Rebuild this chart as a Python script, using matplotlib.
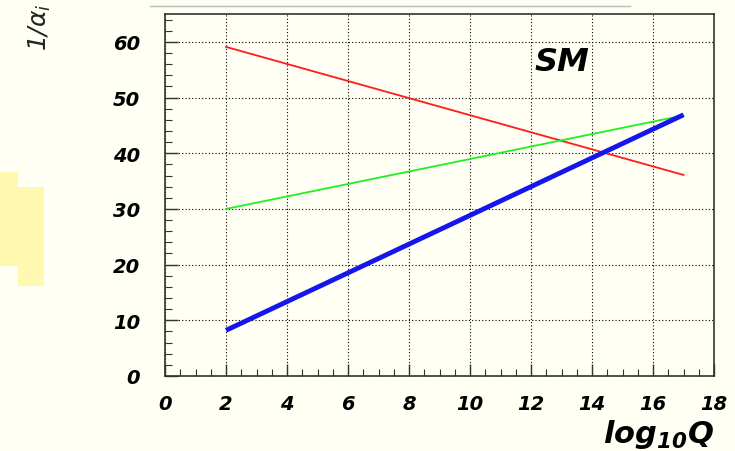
import numpy as np
from matplotlib import pyplot as plt
from matplotlib.patches import Rectangle
from matplotlib.lines import Line2D

# running inverse couplings
log_q = [2, 17]
inv_alpha_red = [59.1, 36.1]
inv_alpha_green = [30.0, 46.8]
inv_alpha_blue = [8.2, 46.9]
x_ticks = [0, 2, 4, 6, 8, 10, 12, 14, 16, 18]
y_ticks = [0, 10, 20, 30, 40, 50, 60]

bg = "#fffff3"
plt.rcParams['font.family'] = ['DejaVu Sans']
plt.rcParams['mathtext.fontset'] = 'custom'
plt.rcParams['mathtext.rm'] = 'DejaVu Sans:italic:bold'
plt.rcParams['mathtext.it'] = 'DejaVu Sans:italic'

fig = plt.figure(figsize=(7.35, 4.52), dpi=100, facecolor=bg)
ax = fig.add_axes([165 / 735, 1 - 377 / 452, 549 / 735, 362 / 452])
ax.set_facecolor(bg)

ax.plot(log_q, inv_alpha_red, color="#ff1a1a", lw=1.3)
ax.plot(log_q, inv_alpha_green, color="#22ee22", lw=1.3)
ax.plot(log_q, inv_alpha_blue, color="#1515ee", lw=3.5, solid_capstyle="butt")

ax.set_xlim(0, 18)
ax.set_ylim(0, 65)
ax.set_xticks(x_ticks)
ax.set_yticks(y_ticks)
ax.set_xticks(np.arange(0, 18.01, 0.5), minor=True)
ax.set_yticks(np.arange(0, 65.01, 2), minor=True)
ax.grid(True, which="major", color="black", linestyle=(0, (1, 2)), lw=0.8)
ax.tick_params(which="major", direction="in", length=9, width=1, color="#333333",
               pad=13, labelsize=14)
ax.tick_params(which="minor", direction="in", length=5, width=0.8, color="#333333")
ax.tick_params(axis="y", pad=18)
for lab in ax.get_xticklabels() + ax.get_yticklabels():
    lab.set_fontweight("bold")
    lab.set_fontstyle("oblique")
for sp in ax.spines.values():
    sp.set_color("#333333")
    sp.set_linewidth(1.2)

ax.text(12.1, 56.5, "SM", fontsize=23, fontweight="bold", fontstyle="oblique",
        va="center", ha="left")
fig.text(714 / 735, 1 - 435 / 452, r"log$_{\mathrm{10}}$Q", fontsize=22,
         fontweight="bold", fontstyle="oblique", ha="right", va="center")

# bits of the surrounding slide visible at the edges
fig.text(40 / 735, 1 - 27 / 452, r"1/$\mathit{\alpha_i}$", fontsize=18, rotation=90,
         ha="center", va="center", color="#222222", fontstyle="oblique")
fig.add_artist(Rectangle((0, 1 - 267 / 452), 18 / 735, 94 / 452,
                         transform=fig.transFigure, color="#fff9b0", lw=0))
fig.add_artist(Rectangle((18 / 735, 1 - 287 / 452), 26 / 735, 99 / 452,
                         transform=fig.transFigure, color="#fff9b0", lw=0))
fig.add_artist(Line2D([150 / 735, 630 / 735], [1 - 7 / 452, 1 - 7 / 452],
                      transform=fig.transFigure, color="#bbbbbb", lw=1))

fig.savefig("out.png", dpi=100, facecolor=bg)
